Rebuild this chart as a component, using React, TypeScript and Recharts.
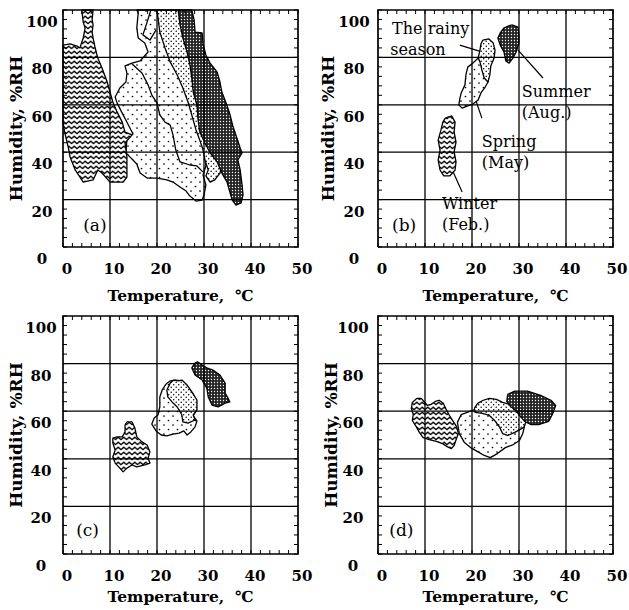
import React from "react";
import { ScatterChart, Scatter, XAxis, YAxis, ReferenceLine, ReferenceDot } from "recharts";

type Pt = [number, number];

const FONT = '"DejaVu Serif", "Liberation Serif", serif';

// axes
const tempTicks = [0, 10, 20, 30, 40, 50];
const rhTicks = [0, 20, 40, 60, 80, 100];
const tempMinor = [0, 2, 4, 6, 8, 10, 12, 14, 16, 18, 20, 22, 24, 26, 28, 30, 32, 34, 36, 38, 40, 42, 44, 46, 48, 50];
const rhMinor = [0, 4, 8, 12, 16, 20, 24, 28, 32, 36, 40, 44, 48, 52, 56, 60, 64, 68, 72, 76, 80, 84, 88, 92, 96, 100];
const gridT = [10, 20, 30, 40];
const gridRh = [20, 40, 60, 80];

// (a) all data
const aWinter: Pt[] = [
  [4.0, 100], [6.4, 100], [6.2, 95.8], [6.4, 93.7], [6.2, 90.7], [6.4, 88.2], [6.8, 84.4], [7.4, 79.7],
  [8.3, 75.5], [9.4, 69.6], [10.0, 65.4], [10.6, 61.2], [11.5, 57.0], [12.6, 52.7], [13.2, 48.5], [14.7, 47.3],
  [13.2, 43.9], [13.6, 38.0], [13.6, 29.5], [12.8, 27.4], [10.0, 27.4], [8.3, 31.2], [7.4, 32.5], [6.4, 28.3],
  [4.3, 27.4], [2.6, 32.5], [1.5, 38.0], [1.1, 42.2], [0.4, 48.1], [0, 52.3], [0, 85.2], [1.5, 85.7],
  [3.0, 84.8], [3.6, 84.0], [4.3, 88.2], [4.7, 92.4], [4.3, 94.9],
];
const aSpring: Pt[] = [
  [15.7, 100], [20.0, 100], [21.1, 91.6], [22.3, 84.0], [23.6, 78.1], [25.1, 72.6], [26.4, 67.1], [27.4, 61.2],
  [28.3, 55.7], [29.1, 49.4], [29.8, 44.3], [30.4, 38.8], [30.4, 34.2], [29.8, 30.4], [30.4, 26.2], [30.0, 21.9],
  [29.6, 19.8], [28.3, 19.4], [27.0, 21.5], [26.2, 23.6], [24.9, 25.3], [23.4, 27.4], [22.1, 28.3], [20.0, 29.1],
  [17.9, 29.1], [16.4, 31.2], [15.7, 35.0], [13.4, 39.7], [13.6, 46.0], [14.9, 47.7], [13.8, 51.9], [12.6, 56.5],
  [11.5, 60.8], [11.1, 63.3], [12.1, 67.1], [13.4, 69.6], [13.6, 73.4], [13.2, 76.4], [14.7, 77.6], [16.4, 78.5],
  [18.1, 82.3], [17.4, 86.1], [16.0, 88.2], [15.7, 92.4], [16.0, 98.7],
];
const aSpringEdge: Pt[] = [
  [14.7, 77.2], [16.8, 73.4], [18.1, 68.4], [18.9, 64.1], [20.0, 60.8], [20.6, 55.7], [21.7, 52.7], [22.8, 51.5],
  [23.4, 47.3], [24.0, 40.9], [24.9, 35.9], [27.0, 34.6], [28.5, 34.2], [29.8, 31.6],
];
const aSpringTop: Pt[] = [[18.7, 100], [17.9, 94.9], [17.0, 89.5], [18.5, 87.3], [19.8, 91.6]];
const aRainy: Pt[] = [
  [20.0, 100], [20.6, 90.7], [21.7, 84.0], [22.8, 78.1], [24.3, 72.6], [25.5, 67.1], [26.6, 61.2], [27.4, 55.7],
  [28.3, 49.4], [29.1, 45.1], [29.8, 40.9], [30.2, 36.7], [30.9, 32.5], [30.4, 30.0], [31.3, 27.4], [32.3, 28.3],
  [33.4, 31.2], [33.8, 34.6], [31.7, 40.9], [30.2, 47.3], [29.1, 55.7], [28.3, 64.1], [27.7, 72.6], [26.6, 81.0],
  [25.5, 89.5], [24.9, 100],
];
const aSummer: Pt[] = [
  [24.5, 100], [24.9, 93.7], [25.5, 88.2], [26.4, 82.3], [27.0, 76.8], [27.4, 71.3], [27.7, 65.4], [28.5, 59.9],
  [28.7, 54.4], [29.1, 48.5], [30.2, 43.9], [31.3, 39.7], [32.8, 35.9], [33.8, 31.2], [34.9, 27.4], [35.5, 23.2],
  [36.0, 19.8], [36.8, 17.7], [37.9, 18.6], [38.3, 21.9], [38.1, 26.2], [37.7, 32.5], [37.2, 36.7], [38.1, 39.7],
  [37.7, 41.8], [37.0, 46.0], [36.2, 50.6], [35.5, 56.1], [34.7, 60.8], [33.8, 65.4], [33.4, 69.6], [32.8, 73.8],
  [31.3, 77.6], [30.4, 81.0], [29.8, 85.7], [29.6, 90.3], [28.1, 90.7], [27.9, 95.8], [27.4, 100],
];

// (b) one house, seasonal means
const bSummer: Pt[] = [
  [28.5, 93.7], [29.8, 92.8], [30.0, 89.5], [30.0, 86.1], [29.4, 82.3], [28.7, 79.7], [27.9, 77.6], [27.2, 78.5],
  [26.8, 82.3], [26.0, 85.2], [25.5, 88.2], [26.0, 90.3], [26.8, 92.4], [27.7, 93.2],
];
const bRainy: Pt[] = [
  [22.3, 87.3], [23.6, 87.8], [24.5, 86.1], [24.9, 83.1], [24.7, 79.7], [24.0, 76.4], [23.8, 72.6], [23.4, 69.6],
  [22.6, 71.3], [22.1, 74.7], [21.7, 78.1], [21.3, 79.7], [21.7, 83.1], [21.9, 85.7],
];
const bSpring: Pt[] = [
  [21.3, 79.7], [21.9, 78.1], [22.3, 74.7], [23.0, 71.3], [23.4, 69.6], [22.8, 67.5], [21.9, 65.0], [21.3, 62.0],
  [20.2, 60.3], [19.1, 59.5], [17.9, 58.6], [17.2, 59.9], [17.4, 62.5], [17.7, 65.0], [18.5, 68.4], [18.7, 72.6],
  [19.1, 75.9], [20.2, 77.6],
];
const bWinter: Pt[] = [
  [14.3, 54.4], [15.7, 55.3], [16.4, 52.7], [16.2, 48.5], [16.6, 44.3], [16.2, 40.1], [16.6, 35.9], [16.4, 32.5],
  [15.3, 30.0], [14.0, 30.0], [13.2, 32.5], [12.8, 36.7], [13.2, 40.9], [12.8, 45.1], [13.4, 49.4], [13.8, 52.7],
];
const bNotes: { text: string; at: Pt }[] = [
  { text: "The rainy", at: [3.0, 92.2] },
  { text: "season", at: [2.6, 83.4] },
  { text: "Summer", at: [30.6, 65.8] },
  { text: "(Aug.)", at: [30.6, 57.0] },
  { text: "Spring", at: [22.1, 44.7] },
  { text: "(May)", at: [22.1, 35.9] },
  { text: "Winter", at: [13.6, 18.6] },
  { text: "(Feb.)", at: [13.6, 9.7] },
];
const bLeaders: [Pt, Pt][] = [
  [[17.4, 85.2], [22.8, 81.9]],
  [[29.8, 83.1], [35.1, 71.3]],
  [[20.2, 65.4], [22.1, 54.4]],
  [[16.0, 31.6], [17.9, 23.2]],
];

// (c)
const cSummer: Pt[] = [
  [28.1, 80.3], [27.4, 78.2], [28.1, 75.2], [29.6, 73.1], [30.6, 69.7], [30.9, 66.0], [31.7, 62.6], [33.0, 61.8],
  [34.5, 63.4], [35.5, 63.9], [35.1, 65.5], [34.5, 67.6], [34.5, 71.8], [33.4, 75.2], [31.9, 77.3], [30.6, 78.2],
  [29.6, 79.4], [28.7, 80.7],
];
const cSpring: Pt[] = [
  [21.9, 71.4], [22.8, 72.7], [24.0, 73.1], [25.3, 72.7], [26.6, 70.2], [27.7, 67.2], [28.3, 63.9], [28.3, 60.5],
  [27.7, 58.0], [28.5, 55.9], [28.1, 53.4], [27.2, 51.3], [26.4, 50.0], [25.7, 51.7], [24.7, 50.8], [23.4, 50.4],
  [22.1, 49.6], [20.9, 50.0], [19.8, 51.7], [18.9, 54.6], [19.4, 57.1], [20.2, 58.4], [20.6, 61.8], [20.6, 66.0],
  [21.1, 68.9],
];
const cRainy: Pt[] = [
  [22.8, 71.8], [23.6, 73.1], [24.5, 72.7], [25.3, 73.1], [26.4, 71.0], [27.4, 68.1], [28.5, 64.7], [28.5, 60.5],
  [27.7, 58.4], [28.1, 56.3], [26.6, 55.0], [25.5, 55.5], [25.3, 58.4], [24.3, 61.8], [23.2, 63.9], [22.3, 66.0],
  [22.1, 68.9],
];
const cWinter: Pt[] = [
  [13.6, 55.5], [14.7, 55.5], [15.3, 52.9], [15.7, 49.2], [16.8, 47.1], [17.9, 45.8], [18.5, 42.9], [18.1, 40.3],
  [18.5, 38.2], [17.4, 37.4], [15.7, 36.6], [14.7, 37.4], [13.6, 36.1], [12.8, 34.5], [12.1, 36.1], [11.1, 38.2],
  [10.6, 40.8], [11.1, 43.7], [10.6, 46.6], [10.6, 48.7], [11.5, 49.2], [12.6, 49.2], [13.2, 51.3], [13.2, 54.2],
];

// (d)
const dSummer: Pt[] = [
  [27.6, 67.1], [29.1, 68.4], [31.8, 68.4], [34.6, 66.7], [36.8, 64.6], [37.8, 62.4], [37.2, 59.1], [36.3, 55.7],
  [34.2, 54.4], [32.5, 54.4], [31.2, 55.7], [30.3, 57.8], [29.3, 60.3], [28.2, 62.0], [27.4, 64.1],
];
const dSpring: Pt[] = [
  [20.1, 60.3], [17.7, 58.6], [16.9, 55.3], [17.3, 50.6], [18.4, 46.8], [19.7, 44.7], [21.2, 43.0], [22.6, 41.4],
  [23.9, 40.5], [25.4, 42.2], [27.1, 44.7], [28.8, 46.0], [30.1, 47.7], [30.8, 50.6], [31.2, 54.0], [30.6, 56.5],
  [29.3, 58.6], [27.6, 60.3], [25.9, 61.2], [23.7, 61.6], [21.6, 61.6],
];
const dRainy: Pt[] = [
  [20.5, 61.2], [21.2, 63.3], [22.4, 64.6], [23.7, 65.4], [25.2, 65.0], [26.5, 63.7], [28.0, 62.9], [29.7, 60.3],
  [31.0, 58.2], [31.6, 56.1], [31.0, 53.2], [29.1, 51.1], [27.6, 49.8], [26.5, 50.6], [25.9, 53.2], [24.8, 56.1],
  [23.7, 58.2], [22.2, 59.1], [20.7, 59.5],
];
const dWinter: Pt[] = [
  [8.3, 65.4], [7.3, 63.7], [7.1, 61.2], [7.5, 58.6], [7.3, 56.1], [8.1, 53.6], [8.8, 51.1], [9.6, 48.9],
  [10.9, 48.1], [12.4, 47.3], [13.7, 46.4], [14.7, 45.1], [15.6, 44.3], [16.2, 45.6], [16.7, 48.5], [17.1, 50.6],
  [16.7, 53.6], [16.0, 55.7], [15.2, 58.2], [14.5, 60.8], [13.9, 63.3], [13.0, 64.6], [12.2, 64.1], [11.3, 62.9],
  [10.5, 62.4], [9.8, 64.1], [9.2, 65.4],
];

type Region = { pts: Pt[]; fill: string; open?: boolean };

const WAVE = "url(#pWave)";
const DOTS = "url(#pDots)";
const DENSE = "url(#pDense)";
const DARK = "url(#pDark)";

const toRows = (pts: Pt[], close: boolean) => {
  const rows = pts.map(([t, rh]) => ({ t, rh }));
  if (close) rows.push({ t: pts[0][0], rh: pts[0][1] });
  return rows;
};

// grid lines and frame, drawn as line series so they sit over the regions
const T_MIN = tempTicks[0];
const T_MAX = tempTicks[tempTicks.length - 1];
const RH_MIN = rhTicks[0];
const RH_MAX = rhTicks[rhTicks.length - 1];
const gridLines: Pt[][] = [
  ...gridT.map((v): Pt[] => [[v, RH_MIN], [v, RH_MAX]]),
  ...gridRh.map((v): Pt[] => [[T_MIN, v], [T_MAX, v]]),
];
const frame: Pt[] = [[T_MIN, RH_MIN], [T_MAX, RH_MIN], [T_MAX, RH_MAX], [T_MIN, RH_MAX]];

const Blank = () => <g />;

type PanelProps = {
  left: number;
  top: number;
  height: number;
  plotH: number;
  tag: string;
  tagAt: Pt;
  titleDx: number;
  titleDy: number;
  labelDx: number;
  regions: Region[];
  notes?: { text: string; at: Pt }[];
  leaders?: [Pt, Pt][];
};

const textStyle = { fontFamily: FONT, fill: "#000" };

function Panel(p: PanelProps) {
  const bottom = p.height - 10 - p.plotH;
  const plotW = 235;

  const xTick = (props: any) => {
    const { x, y, payload } = props;
    const v = payload.value as number;
    return (
      <g>
        <line x1={x} x2={x} y1={y} y2={y - 4} stroke="#000" />
        <line x1={x} x2={x} y1={y - p.plotH} y2={y - p.plotH + 4} stroke="#000" />
        {tempTicks.includes(v) && (
          <text x={x + 4} y={y + 27} textAnchor="middle" fontSize={15} fontWeight="bold" {...textStyle}>
            {v}
          </text>
        )}
      </g>
    );
  };

  const yTick = (props: any) => {
    const { x, y, payload } = props;
    const v = payload.value as number;
    return (
      <g>
        <line x1={x} x2={x + 4} y1={y} y2={y} stroke="#000" />
        <line x1={x + plotW} x2={x + plotW - 4} y1={y} y2={y} stroke="#000" />
        {rhTicks.includes(v) && (
          <text x={x - p.labelDx} y={y + 17} textAnchor="middle" fontSize={15} fontWeight="bold" {...textStyle}>
            {v}
          </text>
        )}
      </g>
    );
  };

  return (
    <div style={{ position: "absolute", left: p.left, top: p.top }}>
      <ScatterChart width={314} height={p.height} margin={{ top: 10, right: 16, bottom: 0, left: 0 }}>
        <XAxis
          type="number"
          dataKey="t"
          domain={[T_MIN, T_MAX]}
          ticks={tempMinor}
          interval={0}
          tick={xTick}
          tickLine={false}
          tickSize={0}
          tickMargin={0}
          axisLine={false}
          height={bottom}
          label={{
            value: "Temperature,\u00a0 ℃",
            position: "insideBottom",
            offset: p.titleDy,
            fontSize: 15.5,
            fontWeight: "bold",
            ...textStyle,
          }}
        />
        <YAxis
          type="number"
          dataKey="rh"
          domain={[RH_MIN, RH_MAX]}
          ticks={rhMinor}
          interval={0}
          tick={yTick}
          tickLine={false}
          tickSize={0}
          tickMargin={0}
          axisLine={false}
          width={63}
          label={{
            value: "Humidity, %RH",
            angle: -90,
            position: "insideLeft",
            offset: p.titleDx,
            fontSize: 17,
            fontWeight: "bold",
            style: { textAnchor: "middle" },
            ...textStyle,
          }}
        />
        {p.regions.map((r, i) => (
          <Scatter
            key={"r" + i}
            data={toRows(r.pts, !r.open)}
            shape={Blank}
            legendType="none"
            isAnimationActive={false}
            line={{ fill: r.open ? "none" : r.fill, stroke: "#000", strokeWidth: 1.3, strokeLinejoin: "round" }}
            lineJointType="linear"
          />
        ))}
        {gridLines.map((g, i) => (
          <Scatter
            key={"g" + i}
            data={toRows(g, false)}
            shape={Blank}
            legendType="none"
            isAnimationActive={false}
            line={{ fill: "none", stroke: "#000", strokeWidth: 1.3 }}
            lineJointType="linear"
          />
        ))}
        <Scatter
          data={toRows(frame, true)}
          shape={Blank}
          legendType="none"
          isAnimationActive={false}
          line={{ fill: "none", stroke: "#000", strokeWidth: 1.7 }}
          lineJointType="linear"
        />
        {(p.leaders || []).map((l, i) => (
          <ReferenceLine
            key={"l" + i}
            segment={[
              { x: l[0][0], y: l[0][1] },
              { x: l[1][0], y: l[1][1] },
            ]}
            stroke="#000"
            strokeWidth={1.2}
          />
        ))}
        {(p.notes || []).map((n, i) => (
          <ReferenceDot
            key={"n" + i}
            x={n.at[0]}
            y={n.at[1]}
            r={0}
            fill="none"
            stroke="none"
            label={{ value: n.text, position: "right", offset: 0, fontSize: 16, ...textStyle }}
          />
        ))}
        <ReferenceDot
          x={p.tagAt[0]}
          y={p.tagAt[1]}
          r={0}
          fill="none"
          stroke="none"
          label={{ value: p.tag, position: "right", offset: 0, fontSize: 17, ...textStyle }}
        />
      </ScatterChart>
    </div>
  );
}

const Patterns = () => (
  <svg width={0} height={0} style={{ position: "absolute" }}>
    <defs>
      <pattern id="pWave" width={5.5} height={5} patternUnits="userSpaceOnUse">
        <rect width={5.5} height={5} fill="#fff" />
        <path d="M-0.5 4.1 L2.75 1.2 L6 4.1" fill="none" stroke="#000" strokeWidth={1.25} />
      </pattern>
      <pattern id="pDots" width={9} height={9} patternUnits="userSpaceOnUse">
        <rect width={9} height={9} fill="#fff" />
        <circle cx={2} cy={2} r={0.85} fill="#000" />
        <circle cx={6.5} cy={6.5} r={0.85} fill="#000" />
      </pattern>
      <pattern id="pDense" width={5} height={5} patternUnits="userSpaceOnUse">
        <rect width={5} height={5} fill="#fff" />
        <circle cx={1.2} cy={1.2} r={0.75} fill="#000" />
        <circle cx={3.7} cy={3.7} r={0.75} fill="#000" />
      </pattern>
      <pattern id="pDark" width={3} height={3} patternUnits="userSpaceOnUse">
        <rect width={3} height={3} fill="#262626" />
        <circle cx={1.5} cy={1.5} r={0.65} fill="#fff" />
      </pattern>
    </defs>
  </svg>
);

export default function App() {
  return (
    <div style={{ position: "absolute", left: 0, top: 0, width: 629, height: 610, background: "#fff", overflow: "hidden" }}>
      <Patterns />
      <Panel
        left={0}
        top={0}
        height={310}
        plotH={237}
        tag="(a)"
        tagAt={[4.3, 9.3]}
        titleDx={16}
        titleDy={9}
        labelDx={21}
        regions={[
          { pts: aSpring, fill: DOTS },
          { pts: aSpringEdge, fill: DOTS, open: true },
          { pts: aSpringTop, fill: DOTS, open: true },
          { pts: aRainy, fill: DENSE },
          { pts: aSummer, fill: DARK },
          { pts: aWinter, fill: WAVE },
        ]}
      />
      <Panel
        left={315}
        top={0}
        height={310}
        plotH={237}
        tag="(b)"
        tagAt={[3.0, 9.3]}
        titleDx={13}
        titleDy={9}
        labelDx={24}
        regions={[
          { pts: bSpring, fill: DOTS },
          { pts: bRainy, fill: DENSE },
          { pts: bSummer, fill: DARK },
          { pts: bWinter, fill: WAVE },
        ]}
        notes={bNotes}
        leaders={bLeaders}
      />
      <Panel
        left={0}
        top={306}
        height={304}
        plotH={238}
        tag="(c)"
        tagAt={[2.8, 10]}
        titleDx={16}
        titleDy={8}
        labelDx={22}
        regions={[
          { pts: cSpring, fill: DOTS },
          { pts: cRainy, fill: DENSE },
          { pts: cSummer, fill: DARK },
          { pts: cWinter, fill: WAVE },
        ]}
      />
      <Panel
        left={315}
        top={306}
        height={304}
        plotH={238}
        tag="(d)"
        tagAt={[2.4, 10]}
        titleDx={16}
        titleDy={8}
        labelDx={25}
        regions={[
          { pts: dSpring, fill: DOTS },
          { pts: dRainy, fill: DENSE },
          { pts: dSummer, fill: DARK },
          { pts: dWinter, fill: WAVE },
        ]}
      />
    </div>
  );
}
